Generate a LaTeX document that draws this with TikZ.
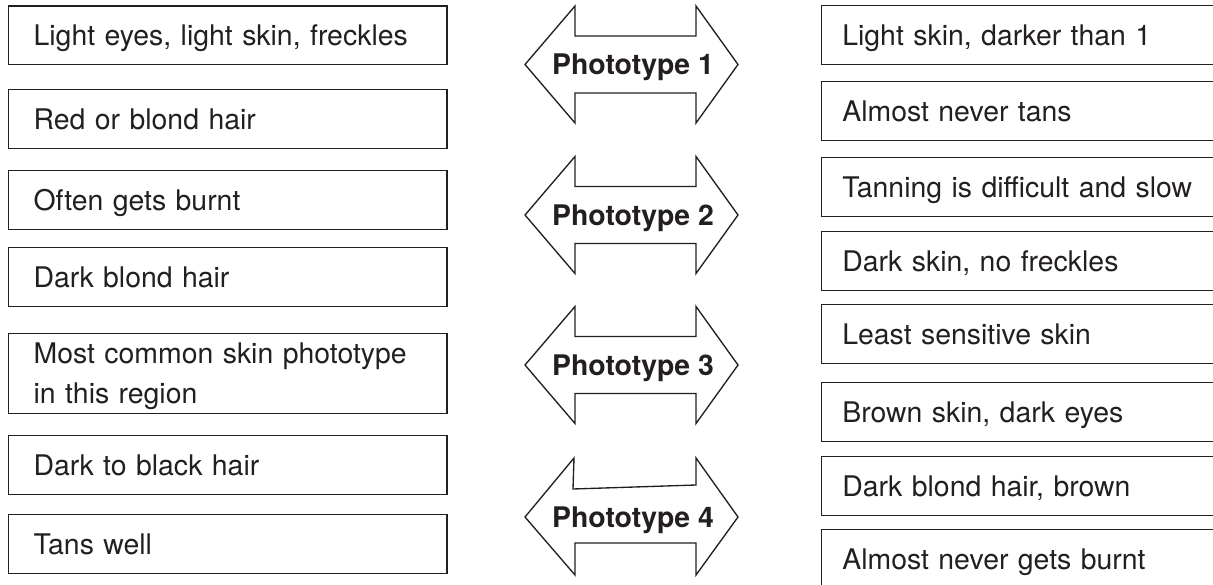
\documentclass[tikz,border=0pt]{standalone}
\usepackage{fontspec}
\setmainfont{TeX Gyre Heros}
\definecolor{ink}{HTML}{231F20}

\tikzset{every picture/.style={line width=1pt}}
\tikzset{
  lbox/.style={draw=ink, anchor=north west, align=left, text width=291pt, inner xsep=19.1pt,
    minimum height=43.9pt, text height=15.3pt, text depth=0pt, text=ink},
  rbox/.style={draw=ink, anchor=north west, align=left, text width=269pt, inner xsep=15.5pt,
    minimum height=43.9pt, text height=15.3pt, text depth=0pt, text=ink},
  photoarrow/.style={draw=ink, line join=miter},
  photolabel/.style={font=\bfseries, text=ink, inner sep=0pt, text height=15.3pt, text depth=0pt}
}

\begin{document}
\begin{tikzpicture}[x=0.75pt,y=0.75pt,yscale=-1,xscale=1]
\fontsize{21.3}{30}\selectfont
\useasboundingbox (0,0) rectangle (1213,585);
\fill[white] (0,0) rectangle (1213,585);
\clip (0,0) rectangle (1213,585);

% Left column
\node[lbox] (l1) at (7.5,5.5) {Light eyes, light skin, freckles};
\node[lbox] (l2) at (7.5,89) {Red or blond hair};
\node[lbox] (l3) at (7.5,170) {Often gets burnt};
\node[lbox] (l4) at (7.5,247) {Dark blond hair};
\node[lbox, minimum height=60pt, text depth=30pt] (l5) at (7.5,333) {Most common skin phototype\\in this region};
\node[lbox] (l6) at (7.5,435) {Dark to black hair};
\node[lbox] (l7) at (7.5,514) {Tans well};

% Phototype arrows
\foreach \n/\y in {1/64.5,2/215,3/365}{
  \draw[photoarrow] (525,\y) -- (575,\y-58.5) -- (575,\y-28.5) -- (696,\y-28.5) -- (696,\y-58.5) -- (738,\y)
    -- (696,\y+58.5) -- (696,\y+28.5) -- (575,\y+28.5) -- (575,\y+58.5) -- cycle;
  \node[photolabel] (ph\n) at (633,\y) {Phototype \n};
}
\draw[photoarrow] (525,517) -- (574,458) -- (573,489) -- (696,485) -- (696,458) -- (738,517)
  -- (696,575) -- (696,543) -- (575,543) -- (575,575) -- cycle;
\node[photolabel] (ph4) at (633,517) {Phototype 4};

% Right column
\node[rbox] (r1) at (821,5) {Light skin, darker than 1};
\node[rbox] (r2) at (821,81) {Almost never tans};
\node[rbox] (r3) at (821,157) {Tanning is difficult and slow};
\node[rbox] (r4) at (821,231) {Dark skin, no freckles};
\node[rbox] (r5) at (821,304) {Least sensitive skin};
\node[rbox] (r6) at (821,382) {Brown skin, dark eyes};
\node[rbox] (r7) at (821,456) {Dark blond hair, brown};
\node[rbox] (r8) at (821,529) {Almost never gets burnt};

\end{tikzpicture}
\end{document}
